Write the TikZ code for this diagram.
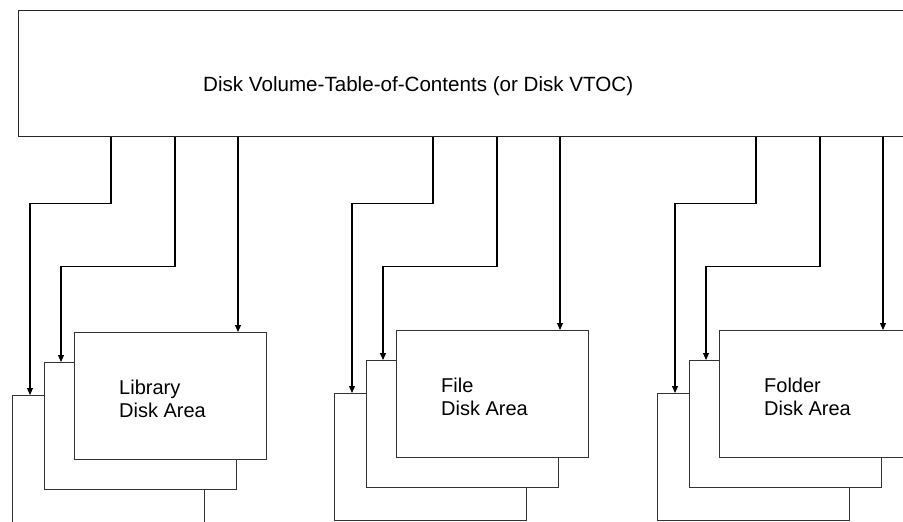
\documentclass[tikz,border=0pt]{standalone}
\usepackage{fontspec}
\setmainfont{Liberation Sans}
\usetikzlibrary{arrows.meta}
\begin{document}
\begin{tikzpicture}[x=1pt,y=-1pt,
  areabox/.style={draw=black!80, line width=0.9pt, fill=white, inner sep=0pt, minimum width=192pt, minimum height=127pt, anchor=north west},
  arr/.style={draw=black, line width=1.1pt, -{Triangle[length=7pt,width=6pt]}},
  lbl/.style={font=\fontsize{20}{23}\selectfont, align=left, anchor=west, inner sep=0pt}]
\useasboundingbox (0,0) rectangle (903,522);
\node[draw=black!85, line width=0.9pt, minimum width=900pt, minimum height=126pt, anchor=north west, inner sep=0pt] (vtoc) at (18,10) {};
\node[lbl, font=\fontsize{20.6}{24}\selectfont] (vtoctext) at (203,86) {Disk Volume-Table-of-Contents (or Disk VTOC)};
\foreach \g/\x/\y/\t in {lib/12/395/Library, file/334/393/File, folder/657/393/Folder}{
  \node[areabox] (\g3) at (\x,\y) {};
  \node[areabox] (\g2) at (\x+32,\y-33) {};
  \node[areabox] (\g1) at (\x+62,\y-63) {};
  \node[lbl] (\g t) at ([xshift=45pt,yshift=-3pt]\g1.west) {\t\\Disk Area};
  \draw[arr] ([xshift=99pt]\g3.north west |- vtoc.south) -- ++(0,67) -| ([xshift=18pt]\g3.north west);
  \draw[arr] ([xshift=163pt]\g3.north west |- vtoc.south) -- ++(0,130) -| ([xshift=17pt]\g2.north west);
  \draw[arr] ([xshift=164pt]\g1.north west |- vtoc.south) -- ([xshift=164pt]\g1.north west);
}
\end{tikzpicture}
\end{document}
